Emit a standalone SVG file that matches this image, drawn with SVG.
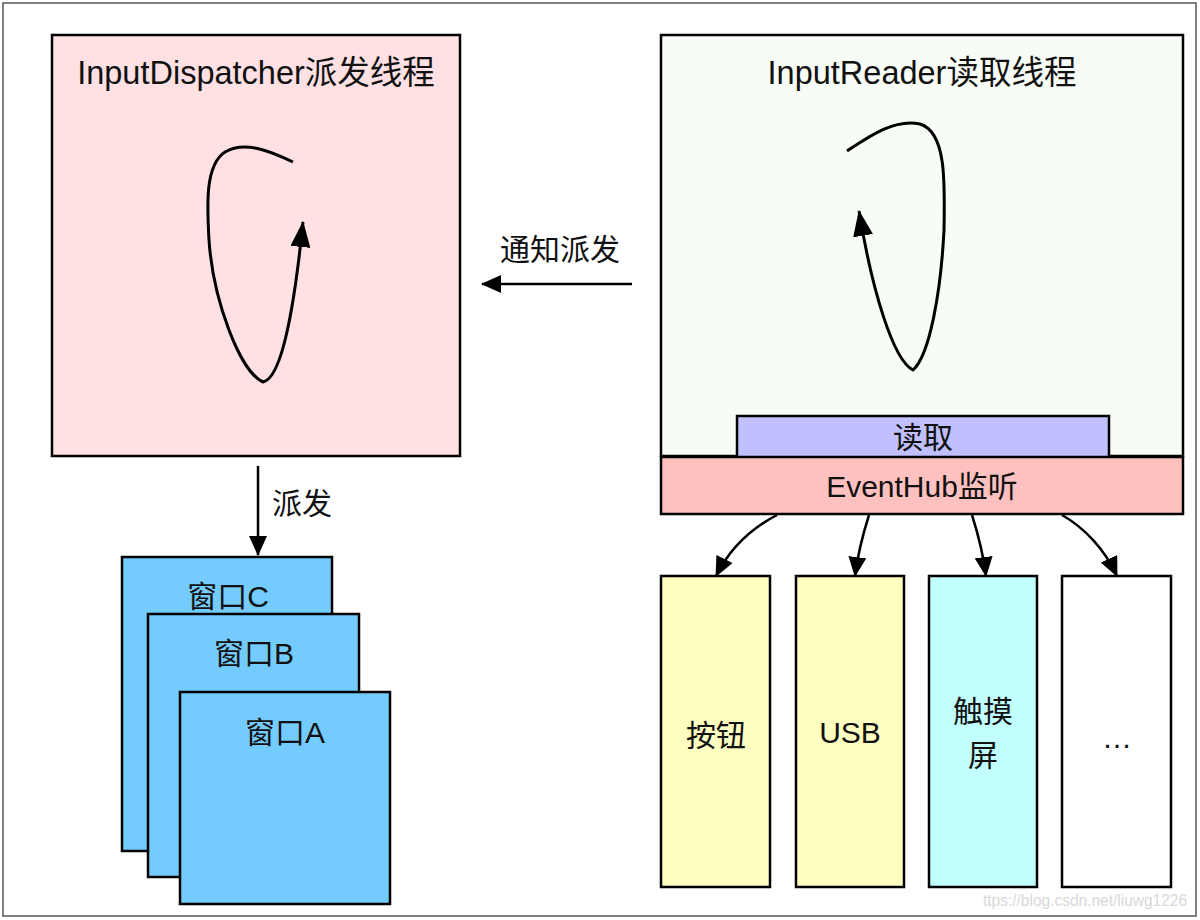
<svg xmlns="http://www.w3.org/2000/svg" width="1200" height="920" viewBox="0 0 1200 920">
<defs>
<style>
text{font-family:"Liberation Sans","Noto Sans CJK SC",sans-serif;font-size:30px;fill:#111;text-anchor:middle}
text.title{font-size:32.5px}
.box{stroke:#000;stroke-width:2.5}
.ln{fill:none;stroke:#000;stroke-width:2.5}
.lp{fill:none;stroke:#000;stroke-width:3}
text.wm{font-size:17px;fill:#d8d8d8;text-anchor:start}
</style>
<marker id="ah" viewBox="0 0 20 18" refX="19" refY="9" markerWidth="20" markerHeight="18" markerUnits="userSpaceOnUse" orient="auto"><path d="M0,0 L20,9 L0,18 Z" fill="#000"/></marker>
<marker id="ahb" viewBox="0 0 26 20" refX="25" refY="10" markerWidth="26" markerHeight="20" markerUnits="userSpaceOnUse" orient="auto"><path d="M0,0 L26,10 L0,20 Z" fill="#000"/></marker>
</defs>
<rect x="0" y="0" width="1200" height="920" fill="#fff"/>
<rect x="3" y="3" width="1193" height="913" fill="none" stroke="#555" stroke-width="1.5"/>

<g id="dispatcher">
<rect class="box" x="52" y="35" width="408" height="421" fill="#FFE1E3"/>
<text class="title" x="256" y="84">InputDispatcher派发线程</text>
</g>

<g id="reader">
<rect class="box" x="661" y="35" width="522" height="421" fill="#F8FCF6"/>
<text class="title" x="922" y="84">InputReader读取线程</text>
</g>

<g id="read">
<rect class="box" x="737" y="416" width="372" height="42" fill="#C0C0FF"/>
<text x="923" y="448">读取</text>
</g>

<g id="eventhub">
<rect class="box" x="661" y="457" width="522" height="57" fill="#FFC0C0"/>
<text x="922" y="497">EventHub监听</text>
</g>

<g id="btn">
<rect class="box" x="661" y="576" width="109" height="311" fill="#FFFFC2"/>
<text x="716" y="746">按钮</text>
</g>
<g id="usb">
<rect class="box" x="796" y="576" width="108" height="311" fill="#FFFFC2"/>
<text x="850" y="743">USB</text>
</g>
<g id="touch">
<rect class="box" x="929" y="576" width="108" height="311" fill="#C2FFFF"/>
<text x="983" y="722">触摸</text>
<text x="983" y="766">屏</text>
</g>
<g id="more">
<rect class="box" x="1062" y="576" width="109" height="311" fill="#fff"/>
<text x="1117" y="748">…</text>
</g>

<g id="winC">
<rect class="box" x="122" y="557" width="210" height="294" fill="#74CCFE"/>
<text x="228" y="607">窗口C</text>
</g>
<g id="winB">
<rect class="box" x="148" y="614" width="211" height="263" fill="#74CCFE"/>
<text x="254" y="664">窗口B</text>
</g>
<g id="winA">
<rect class="box" x="180" y="692" width="210" height="212" fill="#74CCFE"/>
<text x="285" y="743">窗口A</text>
</g>

<g id="connectors">
<path class="lp" marker-end="url(#ahb)" d="M293,162 C272,152 245,140 225,152 C205,165 207,205 209,240 C213,300 240,372 263,382 C283,378 295,300 303,222"/>
<path class="lp" marker-end="url(#ahb)" d="M847,151 C868,137 895,118 920,124 C946,132 945,180 944,230 C941,290 930,355 913,370 C893,360 872,290 859,211"/>
<path class="ln" marker-end="url(#ah)" d="M632,284 L482,284"/>
<text x="560" y="260">通知派发</text>
<path class="ln" marker-end="url(#ah)" d="M258,466 L258,555"/>
<text x="302" y="514">派发</text>
<path class="ln" marker-end="url(#ah)" d="M777,515 C752,528 730,548 716,576"/>
<path class="ln" marker-end="url(#ah)" d="M869,515 C863,534 858,552 855,576"/>
<path class="ln" marker-end="url(#ah)" d="M972,515 C978,534 983,552 986,576"/>
<path class="ln" marker-end="url(#ah)" d="M1062,515 C1085,528 1105,550 1117,576"/>
</g>
<text class="wm" x="983" y="906" textLength="204" lengthAdjust="spacingAndGlyphs">ttps://blog.csdn.net/liuwg1226</text>
</svg>
